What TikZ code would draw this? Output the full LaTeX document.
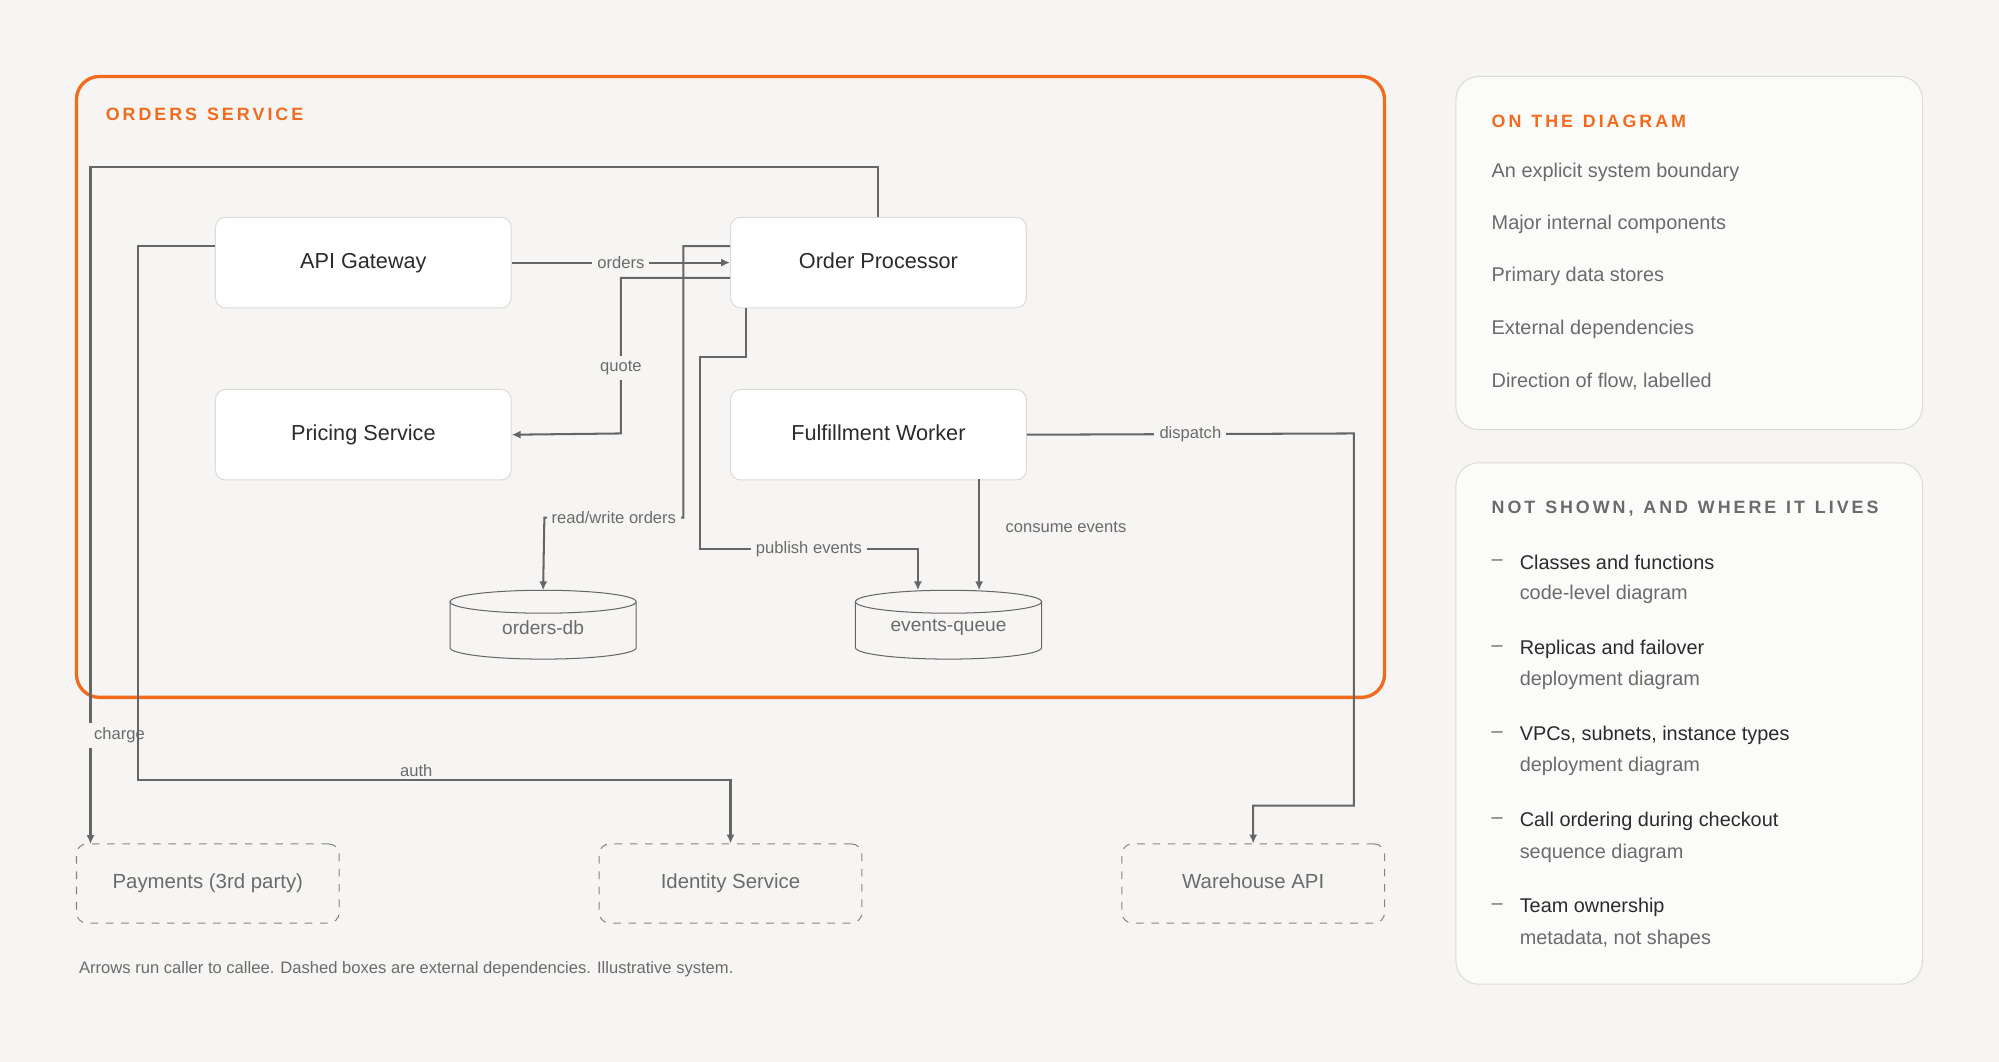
\documentclass[tikz,border=0pt]{standalone}
\usepackage{fontspec}
\setmainfont{Liberation Sans}
\usetikzlibrary{arrows.meta}
\definecolor{bg}{HTML}{F6F5F3}
\definecolor{accent}{HTML}{F26B1D}
\definecolor{wire}{HTML}{666666}
\definecolor{ink}{HTML}{2B2B2B}
\definecolor{soft}{HTML}{6B6B6B}
\definecolor{rim}{HTML}{DDDBD7}
\tikzset{
  comp/.style={draw=rim,fill=white,rounded corners=4pt,minimum width=116pt,minimum height=35.5pt,text height=6.2pt,text depth=1.7pt,text=ink,font=\fontsize{8.5}{10}\selectfont},
  ext/.style={draw=wire!80,dashed,rounded corners=4pt,minimum width=103pt,minimum height=31pt,text height=5.8pt,text depth=1.6pt,text=soft,font=\fontsize{8}{10}\selectfont},
  store/.style={text=soft,font=\fontsize{7.5}{9}\selectfont,inner sep=0pt},
  flow/.style={draw=wire,line width=0.8pt,-{Latex[length=3.5pt,width=3.2pt]}},
  lbl/.style={fill=bg,text=soft,font=\fontsize{6.5}{8}\selectfont,inner sep=2pt},
  head/.style={anchor=west,font=\bfseries\fontsize{7}{9}\selectfont,text=accent},
  item/.style={anchor=west,text=soft,font=\fontsize{7.8}{9}\selectfont},
  main/.style={anchor=west,text=ink,font=\fontsize{7.8}{9}\selectfont},
}
\newcommand{\drum}[3]{% centre x, top y, name
  \draw[wire,fill=bg] (#1-73,#2) -- (#1-73,#2+36) arc[start angle=180,end angle=0,x radius=73,y radius=9] -- (#1+73,#2);
  \draw[wire,fill=bg] (#1,#2) ellipse[x radius=73,y radius=9];
  \coordinate (#3) at (#1,#2-9);
}
\begin{document}
\begin{tikzpicture}[x=0.5pt,y=-0.5pt]
  \fill[bg] (0,0) rectangle (1568,833);
  \useasboundingbox (0,0) rectangle (1568,833);
  % system boundary
  \draw[accent,line width=1.3pt,rounded corners=9pt] (60,60) rectangle (1086,547);
  \node[head] (title) at (76,90) {O\,R\,D\,E\,R\,S\ \ S\,E\,R\,V\,I\,C\,E};
  % components
  \node[comp] (gateway) at (285,206) {API Gateway};
  \node[comp] (processor) at (689,206) {Order Processor};
  \node[comp] (pricing) at (285,341) {Pricing Service};
  \node[comp] (worker) at (689,341) {Fulfillment Worker};
  \drum{426}{472}{dbtop}
  \drum{744}{472}{qtop}
  \node[store] (ordersdb) at (426,492) {orders-db};
  \node[store] (queue) at (744,492) {events-queue};
  % external dependencies
  \node[ext] (payments) at (163,693) {Payments (3rd party)};
  \node[ext] (identity) at (573,693) {Identity Service};
  \node[ext] (warehouse) at (983,693) {Warehouse API};
  % flows
  \draw[flow] (gateway.east) -- node[lbl] {orders} (processor.west);
  \draw[flow] ([yshift=-6pt]processor.west) -- (487,218) -- node[lbl,pos=0.58] {quote} (487,340) -- (pricing.east);
  \draw[flow] ([yshift=6.5pt]processor.west) -- (536,193) -- (536,406) -- node[lbl] {read/write orders} (427,406) -- (dbtop);
  \draw[flow] ([xshift=-52pt]processor.south) -- (585,280) -- (549,280) -- (549,431) -- node[lbl] {publish events} (720,431) -- (720,463);
  \draw[flow] (768,376) -- node[lbl,pos=0.43,right=8pt,fill=none] {consume events} (768,463);
  \draw[flow] (worker.east) -- node[lbl,pos=0.5] {dispatch} (1062,340) -- (1062,632) -- (983,632) -- (warehouse.north);
  \draw[flow] (processor.north) -- (689,131) -- (71,131) -- node[lbl,pos=0.84,right=-1pt] {charge} (71,662);
  \draw[flow] ([yshift=6.5pt]gateway.west) -- (108,193) -- (108,612) -- node[lbl,above=-1pt,fill=none,pos=0.47] {auth} (573,612) -- (identity.north);
  \node[anchor=west,text=soft,font=\fontsize{6.5}{8}\selectfont] (note) at (55,760) {Arrows run caller to callee. Dashed boxes are external dependencies. Illustrative system.};
  % legend panels
  \draw[rim,fill=white!60!bg,rounded corners=9pt] (1142,60) rectangle (1508,337);
  \node[head] (onhead) at (1163,95) {O\,N\ \ T\,H\,E\ \ D\,I\,A\,G\,R\,A\,M};
  \foreach \t [count=\i] in {An explicit system boundary,Major internal components,Primary data stores,External dependencies,{Direction of flow, labelled}}
    \node[item] (on\i) at (1163,94+41*\i) {\t};
  \draw[rim,fill=white!60!bg,rounded corners=9pt] (1142,363) rectangle (1508,772);
  \node[head,text=soft] (nothead) at (1163,399) {N\,O\,T\ \ S\,H\,O\,W\,N\,,\ \ A\,N\,D\ \ W\,H\,E\,R\,E\ \ I\,T\ \ L\,I\,V\,E\,S};
  \foreach \a/\b [count=\i] in {Classes and functions/code-level diagram,Replicas and failover/deployment diagram,{VPCs, subnets, instance types}/deployment diagram,Call ordering during checkout/sequence diagram,Team ownership/{metadata, not shapes}}{
    \node[item] (dash\i) at (1163,374+67.5*\i) {--};
    \node[main] (not\i) at (1185,374+67.5*\i) {\a};
    \node[item] (where\i) at (1185,399+67.5*\i) {\b};
  }
\end{tikzpicture}
\end{document}
